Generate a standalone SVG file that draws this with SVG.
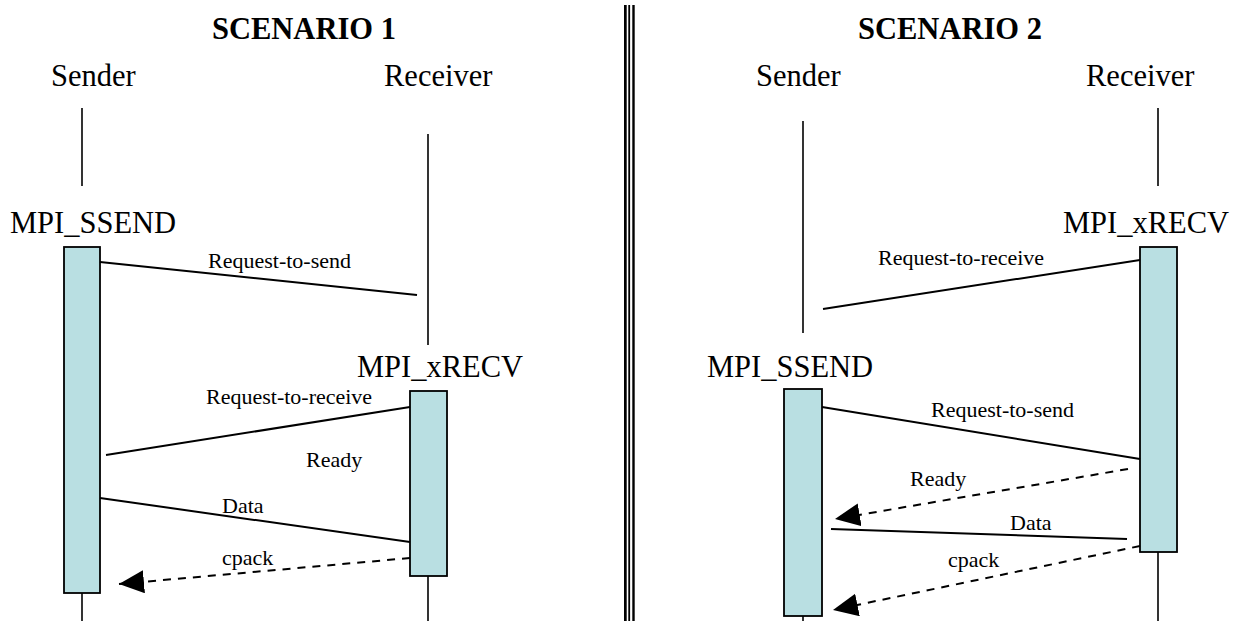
<svg xmlns="http://www.w3.org/2000/svg" width="1238" height="621" viewBox="0 0 1238 621">
<style>
.t{font-family:"Liberation Serif","Times New Roman",serif;fill:#000}
.title{font-size:30.5px;font-weight:bold}
.big{font-size:30.5px}
.lbl{font-size:22px}
.life{stroke:#000;stroke-width:1.6;fill:none}
.act{fill:#B9DFE2;stroke:#000;stroke-width:1.8}
.msg{stroke:#000;stroke-width:2;fill:none}
.dash{stroke:#000;stroke-width:2;fill:none;stroke-dasharray:8 7}
</style>
<defs>
<marker id="ah" markerUnits="userSpaceOnUse" markerWidth="26" markerHeight="24" refX="25" refY="11.5" orient="auto">
<path d="M0,0 L25,11.5 L0,23 Z" fill="#000"/>
</marker>
</defs>
<rect width="1238" height="621" fill="#fff"/>
<g id="divider">
<rect x="624" y="5" width="2.7" height="616" fill="#000"/>
<rect x="628.3" y="5" width="1.8" height="616" fill="#000"/>
<rect x="632.3" y="5" width="2.4" height="616" fill="#000"/>
</g>
<g id="scenario1-title"><text class="t title" x="212" y="39">SCENARIO 1</text></g>
<g id="scenario2-title"><text class="t title" x="858" y="39">SCENARIO 2</text></g>

<g id="s1-sender">
<text class="t big" x="51" y="86">Sender</text>
<line class="life" x1="82" y1="108" x2="82" y2="186"/>
<text class="t big" x="10" y="233">MPI_SSEND</text>
<line class="life" x1="82" y1="593" x2="82" y2="621"/>
<rect class="act" x="64" y="247" width="36" height="346"/>
</g>
<g id="s1-receiver">
<text class="t big" x="384" y="86">Receiver</text>
<line class="life" x1="428" y1="134" x2="428" y2="345"/>
<text class="t big" x="357" y="377">MPI_xRECV</text>
<line class="life" x1="428" y1="576" x2="428" y2="621"/>
<rect class="act" x="410" y="391" width="37" height="185"/>
</g>

<g id="s2-sender">
<text class="t big" x="756" y="86">Sender</text>
<line class="life" x1="803" y1="121" x2="803" y2="333"/>
<text class="t big" x="707" y="377">MPI_SSEND</text>
<line class="life" x1="803" y1="616" x2="803" y2="621"/>
<rect class="act" x="784" y="389" width="38" height="227"/>
</g>
<g id="s2-receiver">
<text class="t big" x="1086" y="86">Receiver</text>
<line class="life" x1="1158" y1="108" x2="1158" y2="186"/>
<text class="t big" x="1063" y="233">MPI_xRECV</text>
<line class="life" x1="1158" y1="552" x2="1158" y2="621"/>
<rect class="act" x="1140" y="247" width="37" height="305"/>
</g>

<g id="connectors">
<line class="msg" x1="100" y1="262" x2="417" y2="295"/>
<line class="msg" x1="106" y1="455" x2="410" y2="407"/>
<line class="msg" x1="100" y1="498" x2="410" y2="542"/>
<line class="dash" x1="410" y1="558" x2="119" y2="584" marker-end="url(#ah)"/>
<line class="msg" x1="1140" y1="260" x2="823" y2="309"/>
<line class="msg" x1="822" y1="407" x2="1140" y2="459"/>
<line class="dash" x1="1128" y1="469" x2="835" y2="519" marker-end="url(#ah)"/>
<line class="msg" x1="831" y1="529" x2="1127" y2="539"/>
<line class="dash" x1="1140" y1="546" x2="833" y2="610" marker-end="url(#ah)"/>
</g>

<g id="labels">
<text class="t lbl" x="208" y="268">Request-to-send</text>
<text class="t lbl" x="206" y="404">Request-to-receive</text>
<text class="t lbl" x="306" y="467">Ready</text>
<text class="t lbl" x="222" y="513">Data</text>
<text class="t lbl" x="222" y="565">cpack</text>
<text class="t lbl" x="878" y="265">Request-to-receive</text>
<text class="t lbl" x="931" y="417">Request-to-send</text>
<text class="t lbl" x="910" y="486">Ready</text>
<text class="t lbl" x="1010" y="530">Data</text>
<text class="t lbl" x="948" y="567">cpack</text>
</g>
</svg>
